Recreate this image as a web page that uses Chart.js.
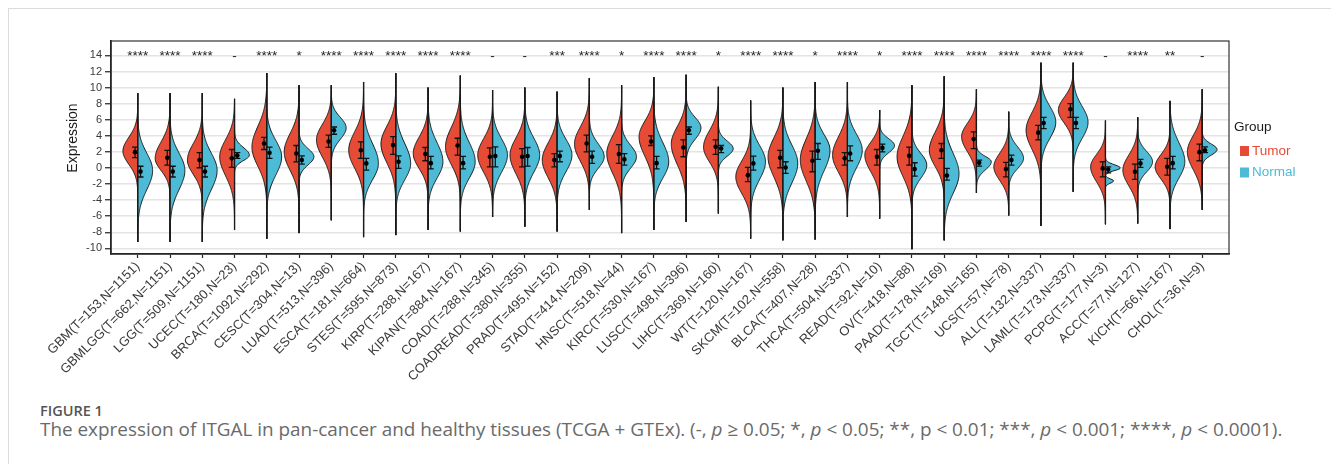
<!DOCTYPE html>
<html>
<head>
<meta charset="utf-8">
<script src="https://cdn.jsdelivr.net/npm/chart.js@4.4.1/dist/chart.umd.min.js"></script>
<style>
  html,body{margin:0;padding:0;background:#fff;width:1331px;height:464px;overflow:hidden;}
  #frame{position:absolute;left:8px;top:8px;width:1400px;height:520px;border:1px solid #dcdcdc;}
  #c{position:absolute;left:0;top:0;}
  .figlab{position:absolute;left:40px;top:401px;font-family:"Open Sans",sans-serif;font-size:14.5px;font-weight:600;color:#555;}
  .figcap{position:absolute;left:40px;top:416px;font-family:"Open Sans",sans-serif;font-size:18.9px;color:#6a6a6a;white-space:nowrap;}
</style>
</head>
<body>
<div id="frame"></div>
<canvas id="c" width="1331" height="390"></canvas>
<div class="figlab">FIGURE 1</div>
<div class="figcap">The expression of ITGAL in pan-cancer and healthy tissues (TCGA + GTEx). (-, <i>p</i> ≥ 0.05; *, <i>p</i> &lt; 0.05; **, p &lt; 0.01; ***, <i>p</i> &lt; 0.001; ****, <i>p</i> &lt; 0.0001).</div>
<script>
const categories = ["GBM(T=153,N=1151)","GBMLGG(T=662,N=1151)","LGG(T=509,N=1151)","UCEC(T=180,N=23)","BRCA(T=1092,N=292)","CESC(T=304,N=13)","LUAD(T=513,N=396)","ESCA(T=181,N=664)","STES(T=595,N=873)","KIRP(T=288,N=167)","KIPAN(T=884,N=167)","COAD(T=288,N=345)","COADREAD(T=380,N=355)","PRAD(T=495,N=152)","STAD(T=414,N=209)","HNSC(T=518,N=44)","KIRC(T=530,N=167)","LUSC(T=498,N=396)","LIHC(T=369,N=160)","WT(T=120,N=167)","SKCM(T=102,N=558)","BLCA(T=407,N=28)","THCA(T=504,N=337)","READ(T=92,N=10)","OV(T=418,N=88)","PAAD(T=178,N=169)","TGCT(T=148,N=165)","UCS(T=57,N=78)","ALL(T=132,N=337)","LAML(T=173,N=337)","PCPG(T=177,N=3)","ACC(T=77,N=127)","KICH(T=66,N=167)","CHOL(T=36,N=9)"];
const groups = ["Tumor","Normal"];
const significance = ["****","****","****","-","****","*","****","****","****","****","****","-","-","***","****","*","****","****","*","****","****","*","****","*","****","****","****","****","****","****","-","****","**","-"];
const yTicks = [-10,-8,-6,-4,-2,0,2,4,6,8,10,12,14];

// per-category overall data range (violin tails)
const tailMin = [-9.2,-9.2,-9.2,-7.7,-8.8,-8.1,-6.5,-8.6,-8.35,-7.7,-7.9,-6.1,-7.3,-7.9,-5.2,-8.1,-7.7,-6.7,-5.65,-8.8,-9.0,-8.9,-6.1,-6.3,-10.1,-9.0,-3.1,-5.9,-7.2,-2.96,-7.0,-6.9,-7.6,-5.2];
const tailMax = [9.3,9.3,9.3,8.6,11.8,10.3,10.3,10.7,11.8,10.0,11.5,9.7,10.0,9.5,11.2,10.3,11.3,11.6,10.1,8.4,10.0,10.7,10.7,7.2,10.3,11.4,9.8,7.0,13.1,13.1,5.9,6.3,8.35,9.8];

// density body of each half: [lower end, mode, upper end]
const tumorBody = [[-1.9,2.1,6.3],[-2.5,1.2,6.2],[-3.4,1.0,6.0],[-4.4,1.4,6.6],[-3.2,2.6,8.9],[-3.6,2.0,7.6],[-1.7,3.5,8.2],[-3.2,2.2,7.8],[-2.75,3.0,8.4],[-2.75,1.8,6.8],[-2.75,2.6,8.65],[-3.6,1.6,6.6],[-4.0,1.6,6.8],[-4.4,1.0,6.2],[-2.3,3.0,8.2],[-4.2,1.8,7.2],[-2.1,3.9,8.65],[-3.2,3.0,8.2],[-1.9,2.6,7.6],[-6.1,-1.1,3.7],[-4.8,1.4,7.2],[-5.4,1.0,7.4],[-3.6,1.6,7.2],[-3.4,1.6,5.5],[-4.6,1.4,7.6],[-2.75,2.2,7.8],[-0.7,3.9,8.0],[-4.0,0.15,4.3],[-1.1,4.7,10.1],[3.25,7.2,11.1],[-4.4,0.15,3.9],[-5.0,-0.26,4.3],[-3.6,0.15,3.9],[-3.4,2.0,7.0]];
const normalBody = [[-6.2,-0.3,5.0],[-6.2,-0.3,5.0],[-6.2,-0.3,5.0],[-0.05,1.6,3.9],[-4.2,1.4,6.4],[-1.1,1.4,3.9],[1.5,5.0,8.2],[-4.4,0.57,6.6],[-4.4,0.57,6.6],[-4.2,0.78,6.6],[-4.2,0.78,6.6],[-3.6,1.6,6.6],[-3.6,1.6,6.8],[-3.4,1.6,6.4],[-2.1,1.4,5.3],[-2.1,1.4,4.9],[-4.2,0.78,6.6],[1.5,5.0,8.2],[0.15,2.4,4.7],[-4.6,0.78,5.75],[-5.4,0.57,6.2],[-4.0,2.2,7.0],[-3.2,2.2,7.2],[0.57,2.8,4.9],[-3.6,0.36,3.9],[-6.7,-0.7,5.5],[-1.7,0.78,2.4],[-1.9,1.2,4.7],[0.78,5.7,10.5],[0.78,5.7,10.5],[-0.8,0.0,1.0],[-2.3,0.78,3.9],[-4.2,0.78,6.6],[0.57,2.3,4.0]];
// secondary density mode: [lower end, mode, upper end, relative density]
const normalSecondMode = {"PCPG(T=177,N=3)": [-2.3,-1.6,-1.0,0.55]};

// point estimate with error bar
const tumorMean = [1.97,1.27,0.98,1.2,3.05,1.8,3.3,2.2,2.85,1.73,2.8,1.4,1.4,0.98,3.05,1.73,3.3,2.55,2.64,-0.89,1.27,0.9,1.2,1.4,1.52,2.2,3.6,-0.14,4.4,7.3,-0.05,-0.47,0.15,1.97];
const tumorLow  = [1.3,0.36,0.03,0.07,2.3,0.76,2.56,1.2,1.7,0.9,1.6,0.15,0.15,0.15,2.0,0.57,2.8,1.4,1.7,-1.7,0.03,-0.47,0.36,0.36,0.36,1.2,2.4,-1.1,3.5,6.3,-1.1,-1.42,-0.89,0.9];
const tumorHigh = [2.6,2.2,1.92,2.3,3.8,2.8,4.1,3.25,3.9,2.55,3.7,2.5,2.4,1.8,4.1,2.9,4.0,3.5,3.5,0.07,2.2,2.1,1.9,2.3,2.6,3.05,4.5,0.7,5.3,8.0,0.78,0.48,1.2,2.97];
const normalMean = [-0.45,-0.45,-0.45,1.56,1.9,1.0,4.7,0.57,0.78,0.6,0.6,1.48,1.48,1.48,1.4,1.07,0.6,4.7,2.43,0.57,0.07,2.14,1.8,2.5,-0.14,-0.93,0.65,0.98,5.6,5.6,-0.18,0.57,0.6,2.2];
const normalLow  = [-1.12,-1.12,-1.12,1.2,1.2,0.49,4.2,-0.26,-0.05,-0.1,-0.1,0.15,0.24,0.78,0.57,0.36,-0.1,4.2,1.9,-0.26,-0.68,1.07,0.9,2.0,-1.0,-1.5,0.24,0.36,4.9,4.9,-0.6,0.07,-0.1,1.9];
const normalHigh = [0.22,0.22,0.22,1.9,2.6,1.5,5.1,1.2,1.5,1.45,1.45,2.64,2.55,2.1,2.1,1.8,1.45,5.1,2.8,1.48,0.78,3.05,2.75,2.97,0.65,-0.05,0.98,1.6,6.3,6.3,0.15,1.07,1.45,2.64];

// ---- styles ----
const COLORS = ["#E64B35", "#4DBBD5"];
const HALF_W = 0.46;     // violin half width in category units
const OFF = 0.085;       // point offset from centre
const SIG_Y = 13.4;      // significance label baseline value
const FONT = '"Liberation Sans", Arial, sans-serif';

function bump(v, b) {
  const [lo, mode, hi] = b;
  const t = v < mode ? (mode - v) / (mode - lo) : (v - mode) / (hi - mode);
  return (b[3] !== undefined ? b[3] : 1) * Math.exp(-3 * t * t);
}

function drawHalf(ctx, y, cx, wpx, bumps, vmin, vmax, color) {
  const n = 160;
  ctx.beginPath();
  ctx.moveTo(cx, y.getPixelForValue(vmin));
  for (let k = 0; k <= n; k++) {
    const v = vmin + (vmax - vmin) * k / n;
    let d = 0;
    bumps.forEach(b => { d = Math.max(d, bump(v, b)); });
    ctx.lineTo(cx + wpx * d, y.getPixelForValue(v));
  }
  ctx.lineTo(cx, y.getPixelForValue(vmax));
  ctx.closePath();
  ctx.fillStyle = color;
  ctx.fill();
  ctx.lineWidth = 1;
  ctx.strokeStyle = "#1a1a1a";
  ctx.stroke();
}

function errBar(ctx, y, px, lo, hi) {
  const a = y.getPixelForValue(lo), b = y.getPixelForValue(hi);
  ctx.beginPath();
  ctx.moveTo(px, a); ctx.lineTo(px, b);
  ctx.moveTo(px - 3, a); ctx.lineTo(px + 3, a);
  ctx.moveTo(px - 3, b); ctx.lineTo(px + 3, b);
  ctx.lineWidth = 1.3;
  ctx.strokeStyle = "#111";
  ctx.stroke();
}

const violinPlugin = {
  id: "violins",
  beforeDatasetsDraw(chart) {
    const { ctx, chartArea, scales: { x, y } } = chart;
    ctx.save();
    ctx.beginPath();
    ctx.rect(chartArea.left, chartArea.top, chartArea.width, chartArea.height);
    ctx.clip();
    categories.forEach((cat, i) => {
      const cx = x.getPixelForValue(i);
      const wpx = x.getPixelForValue(i + HALF_W) - cx;
      drawHalf(ctx, y, cx, -wpx, [tumorBody[i]], tailMin[i], tailMax[i], COLORS[0]);
      const nb = [normalBody[i]];
      if (normalSecondMode[cat]) nb.push(normalSecondMode[cat]);
      drawHalf(ctx, y, cx, wpx, nb, tailMin[i], tailMax[i], COLORS[1]);
      ctx.beginPath();
      ctx.moveTo(cx, y.getPixelForValue(tailMin[i]));
      ctx.lineTo(cx, y.getPixelForValue(tailMax[i]));
      ctx.lineWidth = 1.3;
      ctx.strokeStyle = "#1a1a1a";
      ctx.stroke();
      errBar(ctx, y, x.getPixelForValue(i - OFF), tumorLow[i], tumorHigh[i]);
      errBar(ctx, y, x.getPixelForValue(i + OFF), normalLow[i], normalHigh[i]);
    });
    ctx.restore();
  },
  afterDraw(chart) {
    const { ctx, chartArea, scales: { x, y } } = chart;
    ctx.save();
    // panel frame
    ctx.strokeStyle = "#333";
    ctx.lineWidth = 1.2;
    ctx.strokeRect(chartArea.left, chartArea.top, chartArea.width, chartArea.height);
    // significance
    ctx.fillStyle = "#222";
    ctx.font = "13.5px " + FONT;
    ctx.textAlign = "center";
    ctx.textBaseline = "alphabetic";
    significance.forEach((s, i) => {
      ctx.fillText(s, x.getPixelForValue(i), y.getPixelForValue(SIG_Y));
    });
    // y title
    ctx.save();
    ctx.translate(73, 138);
    ctx.rotate(-Math.PI / 2);
    ctx.font = "14px " + FONT;
    ctx.fillStyle = "#1a1a1a";
    ctx.textAlign = "center";
    ctx.textBaseline = "middle";
    ctx.fillText("Expression", 0, 0);
    ctx.restore();
    // legend
    const lx = chartArea.right + 5;
    ctx.textAlign = "left";
    ctx.textBaseline = "middle";
    ctx.font = "13.5px " + FONT;
    ctx.fillStyle = "#1a1a1a";
    ctx.fillText("Group", lx, 127);
    groups.forEach((g, k) => {
      const cyy = 151 + k * 21.5;
      ctx.fillStyle = COLORS[k];
      ctx.fillRect(lx + 6, cyy - 5, 9, 10);
      ctx.fillText(g, lx + 18, cyy);
    });
    ctx.restore();
  }
};

new Chart(document.getElementById("c"), {
  type: "scatter",
  data: {
    datasets: [
      { label: groups[0], data: tumorMean.map((v, i) => ({ x: i - OFF, y: v })),
        pointRadius: 2.3, pointHoverRadius: 2.3, backgroundColor: "#000", borderColor: "#000", borderWidth: 0 },
      { label: groups[1], data: normalMean.map((v, i) => ({ x: i + OFF, y: v })),
        pointRadius: 2.3, pointHoverRadius: 2.3, backgroundColor: "#000", borderColor: "#000", borderWidth: 0 }
    ]
  },
  options: {
    responsive: false,
    animation: false,
    events: [],
    layout: { padding: { left: 0, top: 41, right: 102, bottom: 0 } },
    plugins: { legend: { display: false }, tooltip: { enabled: false }, title: { display: false } },
    scales: {
      x: {
        type: "linear",
        min: -0.83, max: 33.83,
        afterBuildTicks: s => { s.ticks = categories.map((c, i) => ({ value: i })); },
        afterFit: s => { s.height = 136; },
        ticks: {
          autoSkip: false, minRotation: 45, maxRotation: 45, padding: 1,
          color: "#3a3a3a", font: { family: FONT, size: 13 },
          callback: (v, idx) => categories[idx]
        },
        grid: { drawOnChartArea: false, drawTicks: true, tickLength: 4, tickColor: "#222", tickWidth: 1.2 },
        border: { display: true, color: "#111", width: 1.6 }
      },
      y: {
        min: -10.7, max: 15.8,
        afterBuildTicks: s => { s.ticks = yTicks.map(v => ({ value: v })); },
        afterFit: s => { s.width = 111; },
        ticks: { color: "#3a3a3a", font: { family: FONT, size: 11 }, padding: 3 },
        grid: { color: "#e4e4e4", lineWidth: 1.5, tickLength: 6, tickColor: "#222", tickWidth: 1.2 },
        border: { display: true, color: "#111", width: 1.6 }
      }
    }
  },
  plugins: [violinPlugin]
});
</script>
</body>
</html>
